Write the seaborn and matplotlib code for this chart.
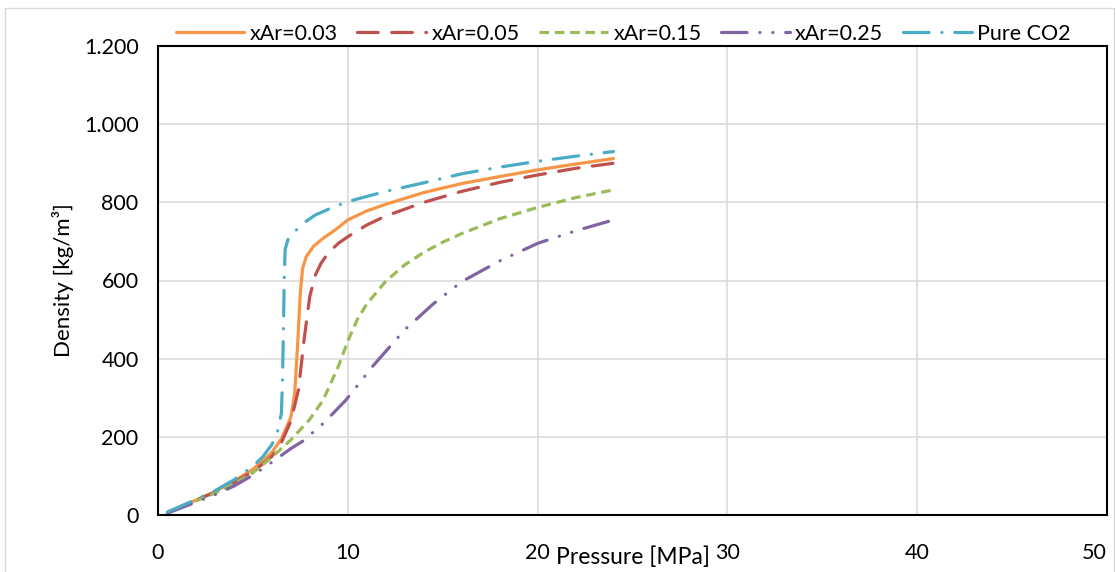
import matplotlib
matplotlib.use("Agg")
import matplotlib.pyplot as plt
import seaborn as sns
from matplotlib.patches import Rectangle
from matplotlib.ticker import FuncFormatter, FixedLocator

# ---- data ----
p_co2 = [0.5, 1, 2, 3, 4, 5, 5.5, 6, 6.3, 6.5, 6.55, 6.6, 6.65, 6.7, 6.85, 7.2, 7.7, 8.3, 9.2, 10, 12, 14, 16, 18, 20, 22, 24]
d_co2 = [8, 18, 40, 62, 90, 125, 148, 180, 215, 260, 330, 450, 600, 680, 705, 725, 748, 768, 787, 802, 828, 850, 873, 890, 905, 918, 930]

p_03 = [0.5, 1, 2, 3, 4, 5, 5.5, 6, 6.5, 7, 7.2, 7.35, 7.5, 7.62, 7.8, 8.2, 8.7, 9.3, 10, 11, 12, 14, 16, 18, 20, 22, 24]
d_03 = [6, 17, 38, 60, 86, 117, 138, 160, 195, 250, 310, 430, 570, 631, 660, 688, 708, 728, 755, 778, 795, 825, 848, 866, 883, 898, 912]

p_05 = [0.5, 1, 2, 3, 4, 5, 5.5, 6, 6.5, 7, 7.4, 7.7, 8.0, 8.3, 8.6, 9, 9.5, 10, 11, 12, 14, 16, 18, 20, 22, 24]
d_05 = [6, 17, 38, 58, 83, 112, 130, 150, 185, 240, 320, 450, 560, 615, 645, 672, 695, 712, 742, 765, 800, 828, 851, 870, 887, 900]

p_15 = [0.5, 1, 2, 3, 4, 5, 5.5, 6, 7, 8, 8.7, 9.5, 10, 10.5, 11, 12, 13, 14, 15, 16, 18, 20, 22, 24]
d_15 = [6, 16, 36, 56, 80, 108, 128, 148, 192, 245, 294, 380, 445, 500, 540, 598, 640, 672, 698, 720, 758, 787, 812, 832]

p_25 = [0.5, 1, 2, 3, 4, 5, 6, 7, 7.6, 8.7, 9.9, 11.3, 13, 14.5, 16, 18, 20, 22, 24]
d_25 = [5, 14, 33, 52, 74, 102, 135, 170, 188, 234, 294, 380, 474, 540, 597, 650, 695, 727, 755]

labels = ["xAr=0.03", "xAr=0.05", "xAr=0.15", "xAr=0.25", "Pure CO2"]
x_ticks = [0, 10, 20, 30, 40, 50]
y_ticks = [0, 200, 400, 600, 800, 1000, 1200]

sns.set_theme(style="white")
plt.rcParams["font.family"] = ["Lato", "DejaVu Sans"]

FS = 15.5

fig = plt.figure(figsize=(11.16, 5.72), dpi=100)
ax = fig.add_axes([158 / 1116, 57 / 572, 949 / 1116, 469 / 572])

lw = 2.3
series = [
    (p_03, d_03, "#F79646", "-", "round"),
    (p_05, d_05, "#C0504D", (0, (6.5, 4.2)), "round"),
    (p_15, d_15, "#9BBB59", (0, (3, 1.8)), "butt"),
    (p_25, d_25, "#8064A2", (0, (8, 4, 0.05, 4, 0.05, 4)), "round"),
    (p_co2, d_co2, "#4BACC6", (0, (8, 4, 0.05, 4)), "round"),
]
for (px, dy, col, ls, cap), lab in zip(series, labels):
    sns.lineplot(x=px, y=dy, ax=ax, color=col, linestyle=ls, linewidth=lw,
                 label=lab, sort=False, estimator=None,
                 dash_capstyle=cap, solid_capstyle="round")

ax.set_xlim(0, 50)
ax.set_ylim(0, 1200)
ax.xaxis.set_major_locator(FixedLocator(x_ticks))
ax.yaxis.set_major_locator(FixedLocator(y_ticks))
ax.yaxis.set_major_formatter(FuncFormatter(lambda v, _: f"{v:,.0f}".replace(",", ".")))
ax.grid(True, color="#D9D9D9", linewidth=1.1)
ax.set_axisbelow(True)
for s in ax.spines.values():
    s.set_color("black")
    s.set_linewidth(1.5)
ax.tick_params(axis="x", length=0, pad=20, labelsize=FS, colors="black")
ax.tick_params(axis="y", length=0, pad=14, labelsize=FS, colors="black")

# last x tick label shifted inward so it stays inside the figure
xt_labels = ax.get_xticklabels()
xt_labels[-1].set_horizontalalignment("right")
xt_labels[-1].set_x(50)

ax.set_xlabel("Pressure [MPa]", fontsize=16.5, color="black")
ax.set_ylabel("Density [kg/m³]", fontsize=16, color="black")
ax.xaxis.set_label_coords(0.5, -0.066)
ax.yaxis.set_label_coords(-0.0885, 0.5)

leg = ax.legend(loc="center", bbox_to_anchor=(0.49, 1.026), ncol=5, frameon=False,
                fontsize=FS, handlelength=3.2, handletextpad=0.25, columnspacing=0.9,
                borderaxespad=0)
for t in leg.get_texts():
    t.set_color("black")

fig.patches.append(Rectangle((5 / 1116, -0.05), 1109 / 1116, 1.05 - 8 / 572,
                             transform=fig.transFigure, fill=False,
                             edgecolor="#D9D9D9", linewidth=1.0, zorder=-1))

fig.savefig("out.png", dpi=100)
